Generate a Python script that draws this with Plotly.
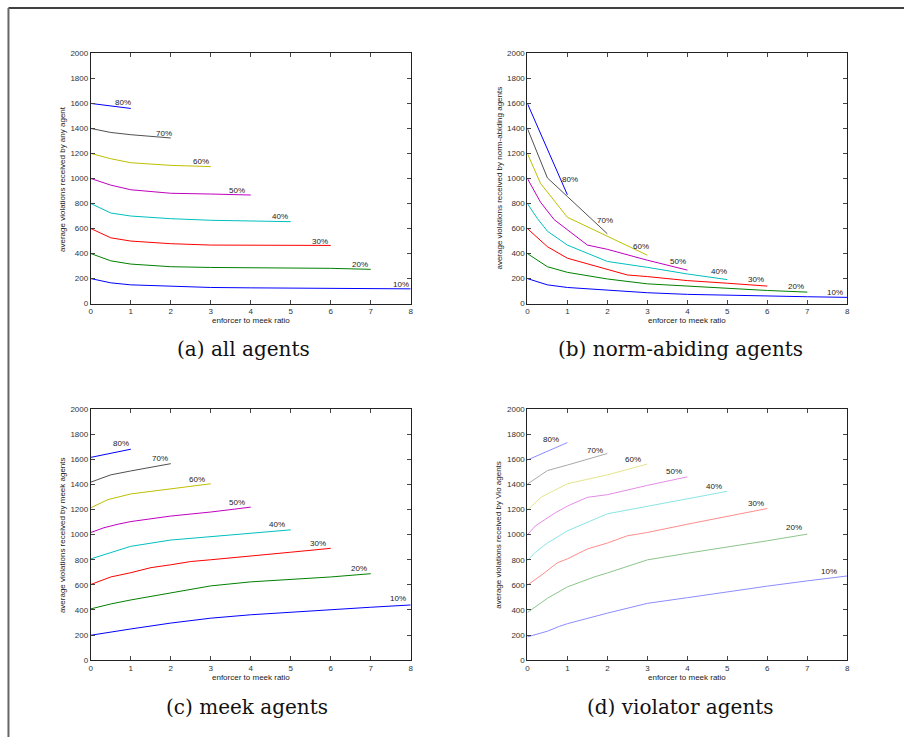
import plotly.graph_objects as go

W, H = 907, 742

PERCENT_LABELS = ["10%", "20%", "30%", "40%", "50%", "60%", "70%", "80%"]
COLORS = ["#0000ff", "#008000", "#ff0000", "#00bfbf", "#bf00bf", "#bfbf00", "#505050", "#0000ff"]
COLORS_LIGHT = ["#8c8cff", "#8cc48c", "#ff8c8c", "#8ce4e4", "#e48ce4", "#e4e48c", "#a8a8a8", "#8c8cff"]

X_TICKS = [0, 1, 2, 3, 4, 5, 6, 7, 8]
Y_TICKS = [0, 200, 400, 600, 800, 1000, 1200, 1400, 1600, 1800, 2000]
X_TITLE = "enforcer to meek ratio"

# ---- (a) all agents ----
A_X = [
    [0, 0.5, 1, 2, 3, 4, 5, 6, 7, 8],
    [0, 0.5, 1, 2, 3, 4, 5, 6, 7],
    [0, 0.5, 1, 2, 3, 4, 5, 6],
    [0, 0.5, 1, 2, 3, 4, 5],
    [0, 0.5, 1, 2, 3, 4],
    [0, 0.5, 1, 2, 3],
    [0, 0.5, 1, 2],
    [0, 0.5, 1],
]
A_Y = [
    [200, 166, 150, 137, 129, 126, 124, 121, 118, 118],
    [400, 342, 316, 295, 289, 287, 283, 282, 274],
    [600, 526, 500, 479, 468, 467, 466, 465],
    [800, 724, 700, 679, 666, 660, 655],
    [1000, 947, 910, 882, 876, 868],
    [1200, 1158, 1126, 1105, 1095],
    [1400, 1368, 1350, 1324],
    [1600, 1580, 1560],
]
A_LABEL_X = [7.75, 6.73, 5.72, 4.74, 3.66, 2.75, 1.84, 0.80]
A_LABEL_Y = [153, 310, 500, 700, 905, 1139, 1363, 1610]
A_YTITLE = "average violations received by any agent"
A_CAPTION = "(a) all agents"

# ---- (b) norm-abiding agents ----
B_X = [
    [0, 0.5, 1, 2, 3, 4, 5, 6, 7, 8],
    [0, 0.5, 1, 2, 3, 4, 5, 6, 7],
    [0, 0.5, 1, 2, 2.5, 3, 4, 5, 6],
    [0, 0.25, 0.5, 1, 2, 3, 4, 5],
    [0, 0.33, 0.67, 1, 1.5, 2, 3, 4],
    [0, 0.33, 1, 2, 3],
    [0, 0.5, 1, 1.5, 2],
    [0, 0.5, 1],
]
B_Y = [
    [200, 150, 129, 105, 87, 74, 66, 60, 55, 50],
    [400, 295, 250, 197, 158, 140, 118, 105, 92],
    [600, 455, 363, 276, 229, 216, 184, 163, 140],
    [800, 680, 579, 468, 337, 290, 237, 192],
    [1000, 810, 671, 590, 468, 434, 347, 268],
    [1200, 960, 690, 540, 387],
    [1400, 1005, 856, 707, 558],
    [1600, 1240, 870],
]
B_LABEL_X = [7.69, 6.72, 5.71, 4.78, 3.77, 2.85, 1.95, 1.07]
B_LABEL_Y = [92, 137, 195, 253, 334, 460, 663, 992]
B_YTITLE = "average violations received by norm-abiding agents"
B_CAPTION = "(b) norm-abiding agents"

# ---- (c) meek agents ----
C_X = [
    [0, 0.5, 1, 2, 3, 4, 5, 6, 7, 8],
    [0, 0.5, 1, 2, 3, 4, 5, 6, 7],
    [0, 0.5, 1, 1.5, 2, 2.5, 3, 4, 5, 6],
    [0, 0.5, 1, 2, 3, 4, 5],
    [0, 0.33, 0.68, 1, 2, 3, 4],
    [0, 0.43, 1, 2, 3],
    [0, 0.5, 1, 2],
    [0, 1],
]
C_Y = [
    [199, 225, 249, 296, 335, 362, 383, 401, 422, 440],
    [409, 448, 480, 537, 592, 624, 642, 663, 689],
    [603, 663, 697, 737, 760, 786, 800, 828, 860, 891],
    [807, 860, 907, 957, 983, 1009, 1038],
    [1017, 1055, 1083, 1104, 1148, 1180, 1219],
    [1214, 1279, 1324, 1366, 1405],
    [1418, 1476, 1507, 1565],
    [1615, 1680],
]
C_LABEL_X = [7.68, 6.71, 5.69, 4.66, 3.66, 2.65, 1.73, 0.75]
C_LABEL_Y = [493, 729, 933, 1083, 1253, 1442, 1607, 1725]
C_YTITLE = "average violations received by meek agents"
C_CAPTION = "(c) meek agents"

# ---- (d) violator agents ----
D_X = [
    [0, 0.5, 0.8, 1, 2, 3, 4, 5, 6, 7, 8],
    [0, 0.5, 1, 1.67, 2, 3, 4, 5, 6, 7],
    [0, 0.37, 0.75, 1, 1.5, 2, 2.5, 3, 4, 5, 6],
    [0, 0.2, 0.5, 1, 2, 3, 4, 5],
    [0, 0.2, 0.7, 1, 1.5, 2, 3, 4],
    [0, 0.35, 1, 2, 3],
    [0, 0.5, 1, 2],
    [0, 1],
]
D_Y = [
    [186, 231, 270, 291, 375, 453, 498, 545, 590, 632, 671],
    [380, 493, 584, 663, 695, 799, 852, 899, 951, 1004],
    [598, 682, 776, 807, 886, 933, 991, 1017, 1083, 1148, 1208],
    [794, 860, 933, 1030, 1166, 1227, 1287, 1345],
    [999, 1070, 1174, 1227, 1297, 1318, 1392, 1460],
    [1195, 1300, 1405, 1476, 1562],
    [1402, 1510, 1554, 1646],
    [1594, 1733],
]
D_LABEL_X = [7.55, 6.66, 5.72, 4.67, 3.67, 2.65, 1.70, 0.60]
D_LABEL_Y = [708, 1056, 1248, 1384, 1502, 1599, 1667, 1759]
D_YTITLE = "average violations received by Vio agents"
D_CAPTION = "(d) violator agents"

# ---- layout geometry (pixels) ----
PANELS = [
    dict(xs=A_X, ys=A_Y, lx=A_LABEL_X, ly=A_LABEL_Y, yt=A_YTITLE, cap=A_CAPTION,
         box=(89.3, 411, 50, 303.3), colors=COLORS, cap_x=243, cap_y=349),
    dict(xs=B_X, ys=B_Y, lx=B_LABEL_X, ly=B_LABEL_Y, yt=B_YTITLE, cap=B_CAPTION,
         box=(528.3, 850, 50, 303.3), colors=COLORS, cap_x=682, cap_y=349),
    dict(xs=C_X, ys=C_Y, lx=C_LABEL_X, ly=C_LABEL_Y, yt=C_YTITLE, cap=C_CAPTION,
         box=(89.3, 411, 410, 664.3), colors=COLORS, cap_x=246, cap_y=712),
    dict(xs=D_X, ys=D_Y, lx=D_LABEL_X, ly=D_LABEL_Y, yt=D_YTITLE, cap=D_CAPTION,
         box=(528.3, 850, 410, 664.3), colors=COLORS_LIGHT, cap_x=682, cap_y=712),
]

fig = go.Figure()
annotations = []
SANS = "Liberation Sans, Arial, sans-serif"
SERIF = "DejaVu Serif, Liberation Serif, serif"

for i, p in enumerate(PANELS, start=1):
    xa = "x" if i == 1 else f"x{i}"
    ya = "y" if i == 1 else f"y{i}"
    for k in range(len(PERCENT_LABELS)):
        fig.add_trace(go.Scatter(
            x=p["xs"][k], y=p["ys"][k], mode="lines",
            line=dict(color=p["colors"][k], width=1),
            xaxis=xa, yaxis=ya, showlegend=False, hoverinfo="x+y",
        ))
        annotations.append(dict(
            x=p["lx"][k], y=p["ly"][k], xref=xa, yref=ya, text=PERCENT_LABELS[k],
            showarrow=False, font=dict(family=SANS, size=8, color="#222"),
            xanchor="center", yanchor="middle",
        ))
    x0, x1, y0, y1 = p["box"]
    dom_x = [x0 / W, x1 / W]
    dom_y = [1 - y1 / H, 1 - y0 / H]
    axcommon = dict(showline=True, linecolor="#222", linewidth=1, mirror="ticks",
                    ticks="inside", ticklen=4, tickcolor="#444", showgrid=False,
                    zeroline=False, tickfont=dict(family=SANS, size=8, color="#333"))
    fig.layout[("xaxis" if i == 1 else f"xaxis{i}")] = dict(
        domain=dom_x, range=[0, 8], tickvals=X_TICKS, anchor=ya, **axcommon)
    fig.layout[("yaxis" if i == 1 else f"yaxis{i}")] = dict(
        domain=dom_y, range=[0, 2000], tickvals=Y_TICKS, anchor=xa, **axcommon)
    # axis titles
    annotations.append(dict(
        x=(x0 + x1) / 2 / W, y=1 - (y1 + 17.5) / H, xref="paper", yref="paper",
        text=X_TITLE, showarrow=False, font=dict(family=SANS, size=8, color="#222"),
        xanchor="center", yanchor="middle"))
    annotations.append(dict(
        x=(x0 - 28.5) / W, y=1 - (y0 + y1) / 2 / H, xref="paper", yref="paper",
        text=p["yt"], showarrow=False, textangle=-90,
        font=dict(family=SANS, size=8, color="#222"),
        xanchor="center", yanchor="middle"))
    annotations.append(dict(
        x=p["cap_x"] / W, y=1 - p["cap_y"] / H, xref="paper", yref="paper",
        text=p["cap"], showarrow=False, font=dict(family=SERIF, size=20, color="#111"),
        xanchor="center", yanchor="middle"))

fig.update_layout(
    width=W, height=H, margin=dict(l=0, r=0, t=0, b=0),
    paper_bgcolor="white", plot_bgcolor="white",
    annotations=annotations,
    shapes=[
        dict(type="line", xref="paper", yref="paper", x0=6.5 / W, x1=1, y0=1 - 4 / H, y1=1 - 4 / H,
             line=dict(color="#000", width=1.5)),
        dict(type="line", xref="paper", yref="paper", x0=6.5 / W, x1=6.5 / W, y0=0, y1=1 - 4 / H,
             line=dict(color="#666", width=2)),
    ],
)

fig.write_html("out.html")
